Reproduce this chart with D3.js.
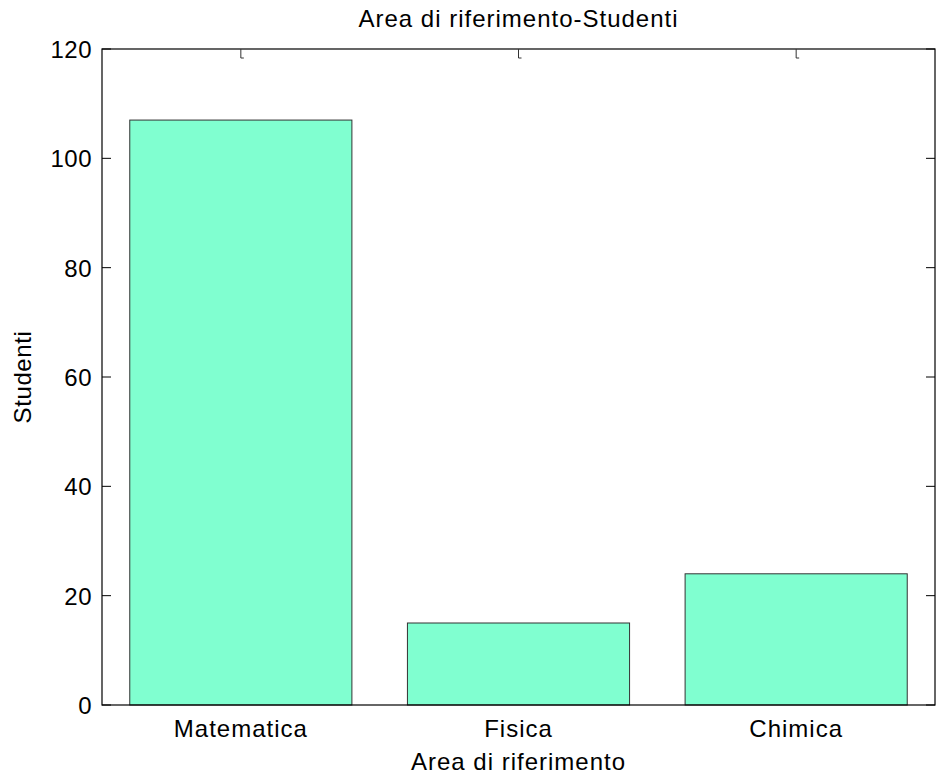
<!DOCTYPE html>
<html>
<head>
<meta charset="utf-8">
<script src="https://cdn.jsdelivr.net/npm/d3@7"></script>
<style>
  html, body { margin: 0; padding: 0; background: #fff; }
  svg { display: block; }
  text { font-family: "Liberation Sans", Arial, Helvetica, sans-serif; fill: #000; }
</style>
</head>
<body>
<svg id="chart" width="937" height="783"></svg>
<script>
const categories = ["Matematica", "Fisica", "Chimica"];
const values = [107, 15, 24];
const yTicks = [0, 20, 40, 60, 80, 100, 120];
const titleText = "Area di riferimento-Studenti";
const xLabel = "Area di riferimento";
const yLabel = "Studenti";

const W = 937, H = 783;
const margin = { left: 102, right: 2, top: 49, bottom: 78 };
const svg = d3.select("#chart");

const x = d3.scaleLinear().domain([0.5, categories.length + 0.5])
  .range([margin.left, W - margin.right]);
const y = d3.scaleLinear().domain([0, 120])
  .range([H - margin.bottom, margin.top]);
const barW = 0.8;

// bars
svg.append("g").selectAll("rect").data(values).join("rect")
  .attr("x", (d, i) => x(i + 1 - barW / 2))
  .attr("width", (d, i) => x(i + 1 + barW / 2) - x(i + 1 - barW / 2))
  .attr("y", d => y(d))
  .attr("height", d => y(0) - y(d))
  .attr("fill", "#80ffd0")
  .attr("stroke", "#333")
  .attr("stroke-width", 1);

// box
const x0 = x(0.5), x1 = x(categories.length + 0.5), y0 = y(0), y1 = y(120);
svg.append("rect")
  .attr("x", x0).attr("y", y1)
  .attr("width", x1 - x0).attr("height", y0 - y1)
  .attr("fill", "none").attr("stroke", "#000").attr("stroke-width", 1.2);

// y ticks (left and right, inward)
const tl = 9;
const yt = svg.append("g");
yTicks.forEach(t => {
  yt.append("line").attr("x1", x0).attr("x2", x0 + tl).attr("y1", y(t)).attr("y2", y(t))
    .attr("stroke", "#000").attr("stroke-width", 1);
  yt.append("line").attr("x1", x1 - tl).attr("x2", x1).attr("y1", y(t)).attr("y2", y(t))
    .attr("stroke", "#000").attr("stroke-width", 1);
  yt.append("text").attr("x", x0 - 10).attr("y", y(t) + 9)
    .attr("text-anchor", "end").attr("font-size", 24).attr("letter-spacing", 0.5)
    .text(t);
});

// x ticks at top (inward) and labels at bottom
const xt = svg.append("g");
categories.forEach((c, i) => {
  const cx = x(i + 1);
  xt.append("path")
    .attr("d", `M${cx},${y1} V${y1 + 9} H${cx + 3}`)
    .attr("fill", "none").attr("stroke", "#333").attr("stroke-width", 1);
  xt.append("text").attr("x", cx).attr("y", y0 + 32)
    .attr("text-anchor", "middle").attr("font-size", 24).attr("letter-spacing", 1)
    .text(c);
});

// title
svg.append("text").attr("x", (x0 + x1) / 2).attr("y", 27)
  .attr("text-anchor", "middle").attr("font-size", 24).attr("letter-spacing", 1)
  .text(titleText);

// x label
svg.append("text").attr("x", (x0 + x1) / 2).attr("y", 770)
  .attr("text-anchor", "middle").attr("font-size", 24).attr("letter-spacing", 1)
  .text(xLabel);

// y label
svg.append("text")
  .attr("transform", `translate(31,${(y0 + y1) / 2}) rotate(-90)`)
  .attr("text-anchor", "middle").attr("font-size", 24).attr("letter-spacing", 0.6)
  .text(yLabel);
</script>
</body>
</html>
